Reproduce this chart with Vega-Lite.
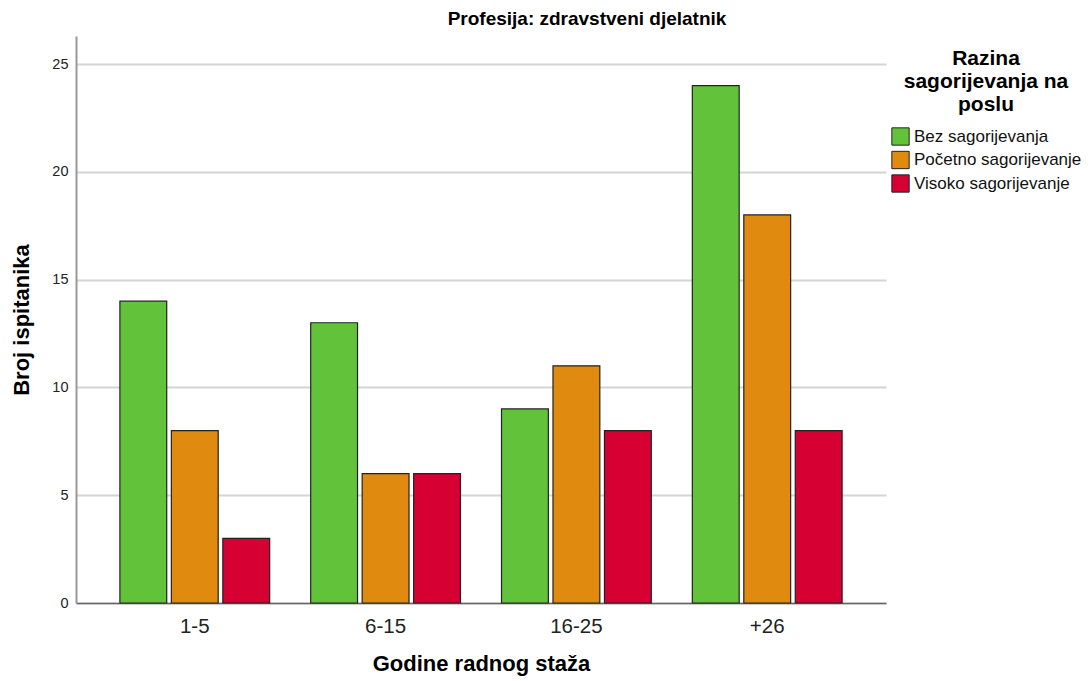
{
  "$schema": "https://vega.github.io/schema/vega-lite/v6.json",
  "width": 810,
  "height": 567,
  "autosize": {"type": "none"},
  "padding": {"left": 76, "top": 36, "right": 204, "bottom": 78},
  "background": "white",
  "config": {"view": {"stroke": null}},
  "title": {
    "text": "Profesija: zdravstveni djelatnik",
    "fontSize": 19,
    "fontWeight": "bold",
    "font": "Liberation Sans",
    "color": "#000000",
    "anchor": "middle",
    "dx": 106,
    "offset": 7
  },
  "data": {
    "values": [
      {"staz": "1-5", "razina": "Bez sagorijevanja", "broj": 14},
      {"staz": "1-5", "razina": "Početno sagorijevanje", "broj": 8},
      {"staz": "1-5", "razina": "Visoko sagorijevanje", "broj": 3},
      {"staz": "6-15", "razina": "Bez sagorijevanja", "broj": 13},
      {"staz": "6-15", "razina": "Početno sagorijevanje", "broj": 6},
      {"staz": "6-15", "razina": "Visoko sagorijevanje", "broj": 6},
      {"staz": "16-25", "razina": "Bez sagorijevanja", "broj": 9},
      {"staz": "16-25", "razina": "Početno sagorijevanje", "broj": 11},
      {"staz": "16-25", "razina": "Visoko sagorijevanje", "broj": 8},
      {"staz": "+26", "razina": "Bez sagorijevanja", "broj": 24},
      {"staz": "+26", "razina": "Početno sagorijevanje", "broj": 18},
      {"staz": "+26", "razina": "Visoko sagorijevanje", "broj": 8}
    ]
  },
  "mark": {"type": "bar", "stroke": "#222222", "strokeWidth": 1.2},
  "encoding": {
    "x": {
      "field": "staz",
      "type": "nominal",
      "sort": ["1-5", "6-15", "16-25", "+26"],
      "scale": {"paddingInner": 0.215, "paddingOuter": 0.23},
      "axis": {
        "title": "Godine radnog staža",
        "titleFont": "Liberation Sans",
        "titleFontSize": 22,
        "titleFontWeight": "bold",
        "titleColor": "#000000",
        "titlePadding": 17,
        "labelFont": "Liberation Sans",
        "labelFontSize": 20.5,
        "labelColor": "#222222",
        "labelAngle": 0,
        "labelPadding": 13,
        "ticks": false,
        "domainColor": "#666666",
        "domainWidth": 1.5,
        "grid": false
      }
    },
    "xOffset": {
      "field": "razina",
      "type": "nominal",
      "scale": {"paddingInner": 0.09, "paddingOuter": 0}
    },
    "y": {
      "field": "broj",
      "type": "quantitative",
      "scale": {"domain": [0, 26.3], "nice": false},
      "axis": {
        "title": "Broj ispitanika",
        "titleFont": "Liberation Sans",
        "titleFontSize": 22,
        "titleFontWeight": "bold",
        "titleColor": "#000000",
        "titlePadding": 18,
        "labelFont": "Liberation Sans",
        "labelFontSize": 14.5,
        "labelColor": "#222222",
        "labelPadding": 8,
        "values": [0, 5, 10, 15, 20, 25],
        "ticks": false,
        "domainColor": "#999999",
        "domainWidth": 2,
        "gridColor": "#d4d4d4",
        "gridWidth": 2
      }
    },
    "color": {
      "field": "razina",
      "type": "nominal",
      "scale": {
        "domain": ["Bez sagorijevanja", "Početno sagorijevanje", "Visoko sagorijevanje"],
        "range": ["#62c33b", "#e08a10", "#d60032"]
      },
      "legend": {
        "title": ["Razina", "sagorijevanja na", "poslu"],
        "titleFont": "Liberation Sans",
        "titleFontSize": 21,
        "titleFontWeight": "bold",
        "titleColor": "#000000",
        "titleAlign": "center",
        "titleAnchor": "middle",
        "titleLineHeight": 23,
        "titlePadding": 12,
        "orient": "none",
        "legendX": 815,
        "legendY": 12,
        "labelFont": "Liberation Sans",
        "labelFontSize": 17,
        "labelColor": "#111111",
        "labelLimit": 300,
        "labelOffset": 4,
        "symbolType": "square",
        "symbolSize": 300,
        "symbolStrokeColor": "#222222",
        "symbolStrokeWidth": 1,
        "rowPadding": 0.5
      }
    }
  }
}
